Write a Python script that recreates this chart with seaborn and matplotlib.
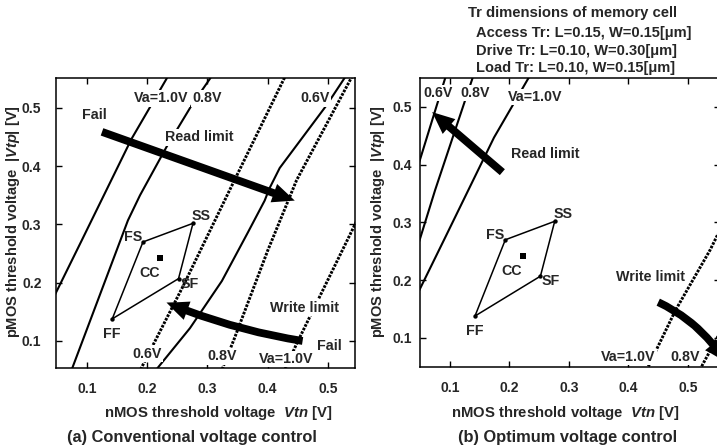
import matplotlib
matplotlib.use('Agg')
import matplotlib.pyplot as plt
import seaborn as sns
from matplotlib.patches import FancyArrowPatch

# process corners (same cell in both panels)
corner_names = ['FF', 'FS', 'SS', 'SF']
corner_vtn = [0.142, 0.193, 0.276, 0.252]
corner_vtp = [0.138, 0.270, 0.302, 0.207]
cc_vtn = [0.222]
cc_vtp = [0.242]

# (a) conventional: read limit contours (solid)
a_read_10_vtn = [0.040, 0.091, 0.174, 0.232, 0.237]
a_read_10_vtp = [0.165, 0.272, 0.447, 0.550, 0.560]
a_read_08_vtn = [0.070, 0.168, 0.188, 0.232, 0.274, 0.304, 0.310]
a_read_08_vtp = [0.038, 0.307, 0.350, 0.433, 0.505, 0.550, 0.560]
a_read_06_vtn = [0.205, 0.216, 0.271, 0.324, 0.367, 0.395, 0.403, 0.420, 0.498, 0.535]
a_read_06_vtp = [0.038, 0.052, 0.122, 0.203, 0.286, 0.341, 0.362, 0.397, 0.505, 0.563]
# (a) write limit contours (dotted)
a_write_06_vtn = [0.186, 0.260, 0.335, 0.428, 0.432]
a_write_06_vtp = [0.045, 0.195, 0.355, 0.552, 0.560]
a_write_08_vtn = [0.322, 0.345, 0.400, 0.448, 0.539, 0.543]
a_write_08_vtp = [0.045, 0.105, 0.255, 0.376, 0.552, 0.560]
a_write_10_vtn = [0.426, 0.448, 0.544, 0.552]
a_write_10_vtp = [0.045, 0.095, 0.298, 0.315]

# (b) optimum: read limit contours
b_read_06_vtn = [0.045, 0.050, 0.092, 0.095]
b_read_06_vtp = [0.394, 0.410, 0.550, 0.560]
b_read_08_vtn = [0.045, 0.050, 0.075, 0.137, 0.141]
b_read_08_vtp = [0.257, 0.273, 0.356, 0.547, 0.560]
b_read_10_vtn = a_read_10_vtn
b_read_10_vtp = a_read_10_vtp
# (b) write limit contours
b_write_10_vtn = [0.430, 0.433, 0.479, 0.537, 0.560]
b_write_10_vtp = [0.045, 0.050, 0.148, 0.252, 0.300]
b_write_08_vtn = [0.520, 0.524, 0.549, 0.570]
b_write_08_vtp = [0.045, 0.053, 0.100, 0.150]

# arrows: (start, end, curvature)
a_arrows = [((0.125, 0.459), (0.445, 0.341), 0.0),
            ((0.458, 0.100), (0.232, 0.166), -0.06)]
b_arrows = [((0.188, 0.387), (0.070, 0.491), 0.0),
            ((0.450, 0.162), (0.563, 0.058), -0.15)]

# text labels
a_labels = [('Fail', 0.113, 0.488), ('Read limit', 0.287, 0.450),
            ('Va=1.0V', 0.224, 0.517), ('0.8V', 0.300, 0.517), ('0.6V', 0.478, 0.517),
            ('Write limit', 0.461, 0.157), ('Fail', 0.503, 0.091),
            ('0.6V', 0.199, 0.078), ('0.8V', 0.324, 0.074), ('Va=1.0V', 0.431, 0.069)]
b_labels = [('0.6V', 0.080, 0.524), ('0.8V', 0.142, 0.524), ('Va=1.0V', 0.243, 0.517),
            ('Read limit', 0.260, 0.419), ('Write limit', 0.437, 0.206),
            ('Va=1.0V', 0.400, 0.067), ('0.8V', 0.495, 0.067)]
corner_label_vtn = [0.141, 0.176, 0.290, 0.270]
corner_label_vtp = [0.112, 0.278, 0.314, 0.198]
cc_label = (0.204, 0.216)

ticks = [0.1, 0.2, 0.3, 0.4, 0.5]

sns.set_theme(style='ticks')
plt.rcParams['font.family'] = ['Liberation Sans', 'DejaVu Sans']
plt.rcParams['font.weight'] = 'bold'
plt.rcParams['mathtext.fontset'] = 'custom'
plt.rcParams['mathtext.it'] = 'Liberation Sans:italic:bold'
plt.rcParams['mathtext.rm'] = 'Liberation Sans:bold'

W, H = 717, 448
fig = plt.figure(figsize=(W / 100, H / 100), dpi=100)
ax1 = fig.add_axes([56 / W, 1 - 368 / H, 299 / W, 290 / H])
ax2 = fig.add_axes([420 / W, 1 - 367 / H, 300 / W, 289 / H])

box = dict(boxstyle='square,pad=0.1', fc='white', ec='none')
fs = 10.3


def draw_panel(ax, read_lines, write_lines, arrows, labels):
    for vx, vy in read_lines:
        sns.lineplot(x=vx, y=vy, sort=False, estimator=None, color='black',
                     lw=1.5, ax=ax, zorder=2)
    for vx, vy in write_lines:
        sns.lineplot(x=vx, y=vy, sort=False, estimator=None, color='black',
                     lw=2.1, ax=ax, zorder=2, linestyle=(0, (0.9, 0.45)))
    # corner diamond
    sns.lineplot(x=corner_vtn + corner_vtn[:1], y=corner_vtp + corner_vtp[:1],
                 sort=False, estimator=None, color='black', lw=1.1, ax=ax, zorder=3)
    sns.scatterplot(x=corner_vtn, y=corner_vtp, color='black', s=10,
                    linewidth=0, ax=ax, zorder=4)
    sns.scatterplot(x=cc_vtn, y=cc_vtp, color='black', marker='s', s=16,
                    linewidth=0, ax=ax, zorder=4)
    for (x0, y0), (x1, y1), rad in arrows:
        ar = FancyArrowPatch((x0, y0), (x1, y1),
                             arrowstyle='simple,head_length=0.8,head_width=0.7,tail_width=0.28',
                             connectionstyle=f'arc3,rad={rad}', mutation_scale=20,
                             shrinkA=0, shrinkB=0, color='black', lw=0, zorder=6)
        ax.add_patch(ar)
    for t, x, y in labels:
        ax.text(x, y, t, ha='center', va='center', fontsize=fs,
                fontweight='bold', bbox=box, zorder=5)
    for name, x, y in zip(corner_names, corner_label_vtn, corner_label_vtp):
        ax.text(x, y, name, ha='center', va='center', fontsize=fs,
                fontweight='bold', zorder=5)
    ax.text(cc_label[0], cc_label[1], 'CC', ha='center', va='center',
            fontsize=fs, fontweight='bold', zorder=5)

    ax.set_xticks(ticks)
    ax.set_yticks(ticks)
    ax.set_xticklabels([f'{t:.1f}' for t in ticks])
    ax.set_yticklabels([f'{t:.1f}' for t in ticks])
    ax.tick_params(direction='in', top=True, right=True, length=4, width=1,
                   labelsize=10, color='black')
    ax.tick_params(axis='x', pad=10)
    for s in ax.spines.values():
        s.set_linewidth(1.1)
        s.set_color('black')
    ax.set_xlabel('')
    ax.set_ylabel('')


draw_panel(ax1,
           [(a_read_10_vtn, a_read_10_vtp), (a_read_08_vtn, a_read_08_vtp),
            (a_read_06_vtn, a_read_06_vtp)],
           [(a_write_06_vtn, a_write_06_vtp), (a_write_08_vtn, a_write_08_vtp),
            (a_write_10_vtn, a_write_10_vtp)],
           a_arrows, a_labels)
draw_panel(ax2,
           [(b_read_06_vtn, b_read_06_vtp), (b_read_08_vtn, b_read_08_vtp),
            (b_read_10_vtn, b_read_10_vtp)],
           [(b_write_10_vtn, b_write_10_vtp), (b_write_08_vtn, b_write_08_vtp)],
           b_arrows, b_labels)

ax1.set_xlim(0.0486, 0.545)
ax1.set_ylim(0.0536, 0.5515)
ax1.tick_params(axis='y', pad=10.5)
ax2.set_xlim(0.0496, 0.0496 + 300 / 595)
ax2.set_ylim(0.0498, 0.550)
ax2.tick_params(axis='y', pad=6)

ylab = 'pMOS threshold voltage  |$\\mathit{Vtp}$| [V]'
xlab = 'nMOS threshold voltage  $\\mathit{Vtn}$ [V]'
fig.text(13 / W, 1 - 222 / H, ylab, rotation=90, ha='center', va='center', fontsize=10.5)
fig.text(378 / W, 1 - 222 / H, ylab, rotation=90, ha='center', va='center', fontsize=10.5)
fig.text(218 / W, 1 - 413 / H, xlab, ha='center', va='center', fontsize=10.7)
fig.text(565 / W, 1 - 413 / H, xlab, ha='center', va='center', fontsize=10.7)
fig.text(192 / W, 1 - 437 / H, '(a) Conventional voltage control', ha='center',
         va='center', fontsize=11.8)
fig.text(568 / W, 1 - 437 / H, '(b) Optimum voltage control', ha='center',
         va='center', fontsize=11.8)

fig.text(572 / W, 1 - 13 / H, 'Tr dimensions of memory cell', ha='center',
         va='center', fontsize=10.7)
for i, line in enumerate(['Access Tr: L=0.15, W=0.15[μm]',
                          'Drive Tr: L=0.10, W=0.30[μm]',
                          'Load Tr: L=0.10, W=0.15[μm]']):
    fig.text(476 / W, 1 - (33 + 17.5 * i) / H, line, ha='left', va='center', fontsize=10.5)

fig.savefig('out.png', dpi=100)
